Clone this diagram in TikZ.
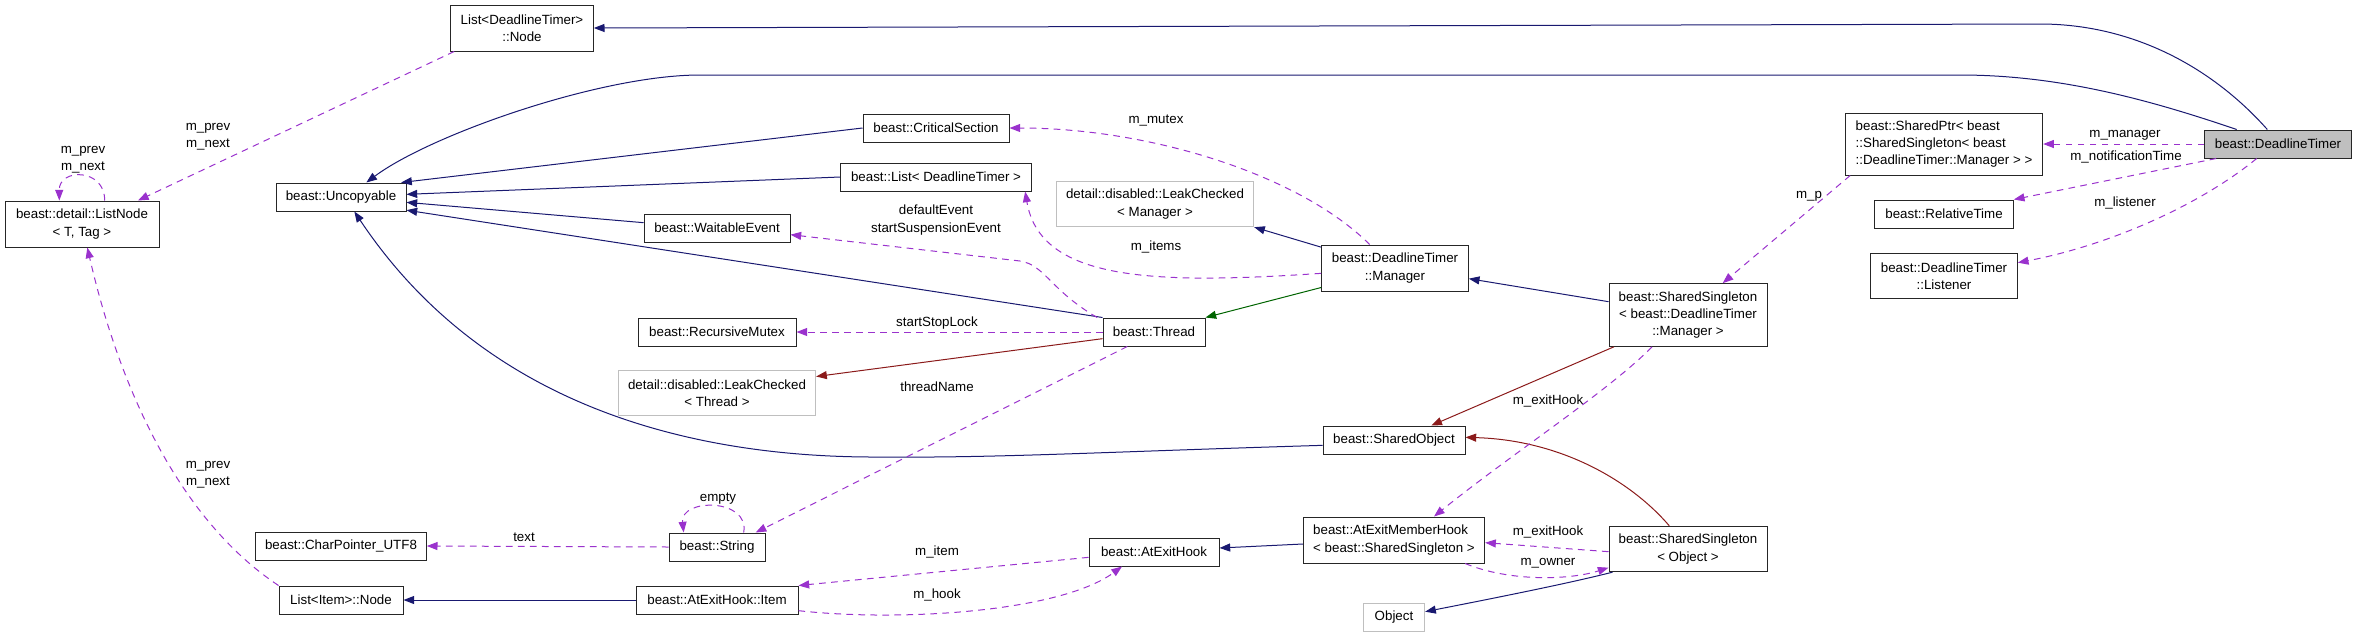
\documentclass[tikz,border=0pt]{standalone}
\usepackage{fontspec}
\setmainfont{Liberation Sans}
\usetikzlibrary{arrows.meta}

\definecolor{inhblue}{HTML}{191970}
\definecolor{memberpurple}{HTML}{9A32CD}
\definecolor{pubgreen}{HTML}{006400}
\definecolor{privred}{HTML}{8B1A1A}

\begin{document}
\begin{tikzpicture}[x=0.75pt, y=-0.75pt,
    box/.style={draw=black!85, fill=white, line width=0.75pt, inner sep=2pt, align=center, font=\fontsize{10}{13}\selectfont, minimum height=21pt},
    ghost/.style={box, draw=black!25},
    focus/.style={box, fill=black!25},
    lbl/.style={align=center, inner sep=0pt, font=\fontsize{10}{13}\selectfont},
    inh/.style={draw=inhblue, line width=0.75pt, -{Triangle[length=8pt,width=6pt]}},
    pub/.style={inh, draw=pubgreen, -{Triangle[length=8pt,width=6pt,fill=pubgreen]}},
    priv/.style={inh, draw=privred, -{Triangle[length=8pt,width=6pt,fill=privred]}},
    mem/.style={draw=memberpurple, line width=0.75pt, dash pattern=on 5pt off 4pt, -{Triangle[length=8pt,width=6pt,fill=memberpurple]}}
]
\useasboundingbox (0,0) rectangle (2357,637);
\node[focus, minimum width=110pt] (dt) at (2278,144) {beast::DeadlineTimer};
\node[box, minimum width=107pt, minimum height=34.5pt] (ltnode) at (522,28) {List<DeadlineTimer>\\::Node};
\node[box, minimum width=115.5pt, minimum height=34.5pt] (listnode) at (82,224) {beast::detail::ListNode\\< T, Tag >};
\node[box, minimum width=97.5pt] (uncop) at (341,197) {beast::Uncopyable};
\node[box, minimum width=109.5pt] (crit) at (936,128) {beast::CriticalSection};
\node[box, minimum width=143pt] (list) at (936,177) {beast::List< DeadlineTimer >};
\node[box, minimum width=109.5pt] (wait) at (717,228) {beast::WaitableEvent};
\node[ghost, minimum width=148pt, minimum height=34pt] (lcmgr) at (1155,204) {detail::disabled::LeakChecked\\< Manager >};
\node[box, minimum width=110pt, minimum height=34.5pt] (mgr) at (1395,268) {beast::DeadlineTimer\\::Manager};
\node[box, minimum width=118.5pt, minimum height=47pt] (ssmgr) at (1688,315) {beast::SharedSingleton\\< beast::DeadlineTimer\\::Manager >};
\node[box, minimum width=148pt, minimum height=46.5pt, align=left] (sptr) at (1944,144) {beast::SharedPtr< beast\\::SharedSingleton< beast\\::DeadlineTimer::Manager > >};
\node[box, minimum width=104pt] (rel) at (1944,214) {beast::RelativeTime};
\node[box, minimum width=110pt, minimum height=34pt] (lis) at (1944,276) {beast::DeadlineTimer\\::Listener};
\node[box, minimum width=118.5pt] (mutex) at (717,332) {beast::RecursiveMutex};
\node[ghost, minimum width=148pt, minimum height=34pt] (lcthr) at (717,393) {detail::disabled::LeakChecked\\< Thread >};
\node[box, minimum width=76.5pt] (thread) at (1154,332) {beast::Thread};
\node[box, minimum width=106.5pt] (shobj) at (1394,440) {beast::SharedObject};
\node[box, minimum width=72pt] (string) at (717,547) {beast::String};
\node[box, minimum width=128pt] (cptr) at (341,546) {beast::CharPointer\_UTF8};
\node[box, minimum width=97.5pt] (hook) at (1154,552) {beast::AtExitHook};
\node[box, minimum width=121.5pt] (item) at (717,600) {beast::AtExitHook::Item};
\node[box, minimum width=93pt] (inode) at (341,600) {List<Item>::Node};
\node[box, minimum width=136pt, minimum height=34.5pt, align=left] (mhook) at (1394,540) {beast::AtExitMemberHook\\< beast::SharedSingleton >};
\node[box, minimum width=118.5pt, minimum height=34pt] (ssobj) at (1688,549) {beast::SharedSingleton\\< Object >};
\node[ghost, minimum width=46pt] (obj) at (1394,617) {Object};
\draw[inh] ([xshift=-8pt]dt.north) .. controls (2210,65) and (2130,24) .. (2040,24) -- (ltnode.east);
\draw[inh] ([xshift=-31pt]dt.north) .. controls (2150,100) and (2060,75) .. (1960,75) -- (700,75) .. controls (600,75) and (430,135) .. ([xshift=19pt]uncop.north);
\draw[inh] (crit.west) -- ([xshift=-4pt]uncop.north east);
\draw[inh] (list.west) -- ([yshift=2pt]uncop.east);
\draw[inh] ([yshift=4pt]wait.west) -- ([yshift=-4pt]uncop.east);
\draw[inh] (thread.north west) -- ([yshift=1pt]uncop.south east);
\draw[inh] ([yshift=-4pt]shobj.west) .. controls (1100,452) and (1000,458) .. (880,457) .. controls (680,458) and (480,400) .. ([xshift=10pt]uncop.south);
\draw[inh] ([yshift=-2pt]mgr.north west) -- (lcmgr.south east);
\draw[inh] ([yshift=10pt]ssmgr.west) -- ([yshift=-8pt]mgr.east);
\draw[inh] ([yshift=-3pt]mhook.west) -- ([yshift=3pt]hook.east);
\draw[inh] (item.west) -- (inode.east);
\draw[inh] ([xshift=3pt]ssobj.south west) .. controls (1570,583) and (1500,597) .. ([yshift=4pt]obj.east);
\draw[pub] ([yshift=3pt]mgr.south west) -- (thread.north east);
\draw[priv] ([yshift=-5pt]thread.west) -- ([yshift=-5pt]lcthr.north east);
\draw[priv] ([xshift=4pt]ssmgr.south west) -- ([xshift=28pt]shobj.north);
\draw[priv] ([xshift=-14pt]ssobj.north) .. controls (1630,480) and (1560,440) .. ([yshift=2pt]shobj.east);
\draw[mem] (dt.west) -- (sptr.east);
\draw[mem] ([xshift=9pt]dt.south west) -- (rel.north east);
\draw[mem] ([xshift=-16pt]dt.south) .. controls (2200,205) and (2110,245) .. ([yshift=10pt]lis.east);
\draw[mem] ([xshift=3pt]ltnode.south west) -- ([xshift=42pt]listnode.north);
\draw[mem] ([xshift=17pt]listnode.north) .. controls (105,168) and (59,168) .. ([xshift=-17pt]listnode.north);
\draw[mem] (inode.north west) .. controls (180,520) and (120,390) .. ([xshift=4pt]listnode.south);
\draw[mem] (string.west) -- (cptr.east);
\draw[mem] ([xshift=20pt]string.north) .. controls (750,498) and (680,498) .. ([xshift=-25pt]string.north);
\draw[mem] ([xshift=-20pt]thread.south) -- ([xshift=29pt]string.north);
\draw[mem] (thread.west) -- (mutex.east);
\draw[mem] ([xshift=-4pt]thread.north west) .. controls (1050,290) and (1045,265) .. (1020,261) -- ([yshift=-5pt]wait.east);
\draw[mem] ([xshift=-19pt]mgr.north) .. controls (1300,175) and (1150,128) .. (crit.east);
\draw[mem] ([yshift=-4pt]mgr.west) .. controls (1150,285) and (1040,280) .. ([xshift=-5pt]list.south east);
\draw[mem] ([xshift=4pt]sptr.south west) -- ([xshift=26pt]ssmgr.north);
\draw[mem] ([xshift=-27pt]ssmgr.south) .. controls (1610,390) and (1510,455) .. ([xshift=30pt]mhook.north);
\draw[mem] ([yshift=-2pt]ssobj.west) -- ([yshift=-2pt]mhook.east);
\draw[mem] ([xshift=-15pt]mhook.south east) .. controls (1510,582) and (1570,580) .. ([yshift=-14pt]ssobj.west);
\draw[mem] ([yshift=-8pt]item.east) .. controls (900,622) and (1060,612) .. ([xshift=-24pt]hook.south);
\draw[mem] ([yshift=-4pt]hook.west) -- (item.north east);
\node[lbl] (lmanager) at (2125,135) {m\_manager};
\node[lbl] (lnotif) at (2126,157) {m\_notificationTime};
\node[lbl] (llistener) at (2125,203) {m\_listener};
\node[lbl] (lprevnext) at (208,137) {m\_prev\\m\_next};
\node[lbl] (lselfprev) at (83,160) {m\_prev\\m\_next};
\node[lbl] (litemprev) at (208,475) {m\_prev\\m\_next};
\node[lbl] (ltext) at (524,537) {text};
\node[lbl] (lempty) at (718,499) {empty};
\node[lbl] (lthreadname) at (937,387) {threadName};
\node[lbl] (lstartstop) at (937,323) {startStopLock};
\node[lbl] (levents) at (936,220) {defaultEvent\\startSuspensionEvent};
\node[lbl] (lmutex) at (1156,121) {m\_mutex};
\node[lbl] (litems) at (1156,247) {m\_items};
\node[lbl] (lp) at (1809,196) {m\_p};
\node[lbl] (lexitone) at (1548,401) {m\_exitHook};
\node[lbl] (lexittwo) at (1548,532) {m\_exitHook};
\node[lbl] (lowner) at (1548,563) {m\_owner};
\node[lbl] (lhook) at (937,595) {m\_hook};
\node[lbl] (litem) at (937,552) {m\_item};
\end{tikzpicture}
\end{document}
